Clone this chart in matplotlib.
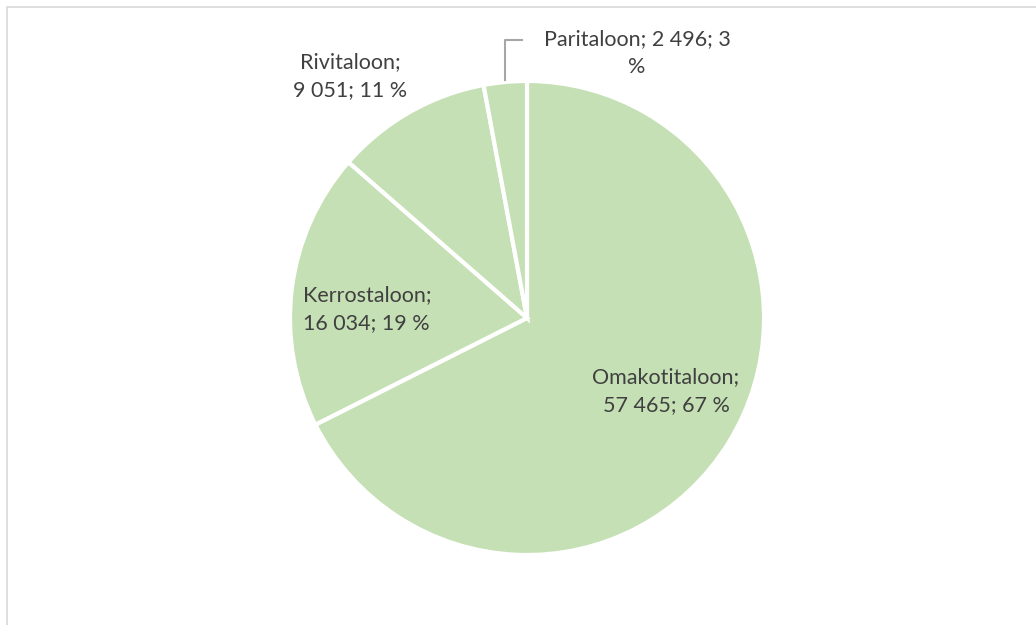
import matplotlib
matplotlib.use("Agg")
import matplotlib.pyplot as plt
from matplotlib.patches import Rectangle

# data
categories = ["Omakotitaloon", "Kerrostaloon", "Rivitaloon", "Paritaloon"]
values = [57465, 16034, 9051, 2496]
percents = [67, 19, 11, 3]

W, H = 1036, 625
fig = plt.figure(figsize=(W / 100, H / 100), dpi=100)
ax = fig.add_axes([0, 0, 1, 1])

green = "#C5E0B4"
txt = "#404040"

# pie, clockwise from 12 o'clock
ax.pie(values, colors=[green] * len(values), startangle=90, counterclock=False,
       center=(527, H - 318), radius=237, frame=True,
       wedgeprops=dict(edgecolor="white", linewidth=3))

ax.set_xlim(0, W)
ax.set_ylim(0, H)
ax.axis("off")

# chart frame (cut at right / bottom)
ax.add_patch(Rectangle((6.5, -20), W + 40, H - 6.5 + 20, fill=False,
                       edgecolor="#D9D9D9", linewidth=1.2, clip_on=False))


def fmt(v):
    return f"{v:,}".replace(",", " ")


labels = [f"{c};\n{fmt(v)}; {p} %" for c, v, p in zip(categories, values, percents)]
font = dict(family="Lato", size=15.5, color=txt, linespacing=1.45)

ax.text(666, H - 391, labels[0], ha="center", va="center", **font)
ax.text(303, H - 309, labels[1], ha="left", va="center", **font)
ax.text(350, H - 76, labels[2], ha="center", va="center", **font)
ax.text(637, H - 53, f"{categories[3]}; {fmt(values[3])}; {percents[3]}\n%",
        ha="center", va="center", **font)

# leader line for the small slice
ax.plot([505, 505, 522], [H - 80, H - 40, H - 40], color="#A6A6A6", linewidth=1.5)

fig.savefig("out.png", dpi=100)
